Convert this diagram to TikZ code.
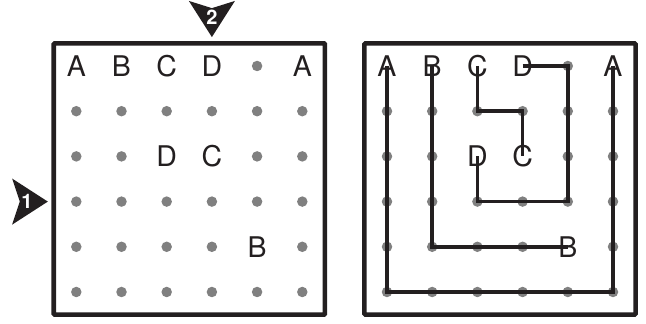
\documentclass[tikz,border=0pt]{standalone}
\usepackage{fontspec}
\setmainfont{TeX Gyre Heros}
\definecolor{ink}{RGB}{35,31,32}
\definecolor{peggray}{RGB}{128,128,128}

\begin{document}
\begin{tikzpicture}[
    letter/.style={inner sep=0pt, text=ink, font=\fontsize{28.5}{28.5}\selectfont},
    peg/.style={circle, fill=peggray, inner sep=0pt, minimum size=10.5pt},
    frame/.style={draw=ink, line width=4.6pt, rounded corners=1pt},
    route/.style={draw=ink, line width=3.6pt},
    flag/.style={fill=ink},
    flagno/.style={inner sep=0pt, text=white, font=\bfseries\fontsize{20}{20}\selectfont}]
    \useasboundingbox (0,0) rectangle (646pt,324pt);
    % left board
    \begin{scope}[shift={(31.1pt,303.2pt)}, x=45.2pt, y=-45.2pt]
    	\draw[frame] (0.5,0.5) rectangle (6.5,6.5);
    	\foreach \j in {2,4,6} \foreach \i in {1,...,6}
    		\node[peg] (n\i\j) at (\i,\j) {};
    	\foreach \i/\j in {5/1,1/3,2/3,5/3,6/3,1/5,2/5,3/5,4/5,6/5}
    		\node[peg] (n\i\j) at (\i,\j) {};
    	\foreach \n/\t/\i/\j in {a1/A/1/1,b1/B/2/1,c1/C/3/1,d1/D/4/1,a2/A/6/1,d2/D/3/3,c2/C/4/3,b2/B/5/5}
    		\node[letter] (l\n) at (\i,\j) {\t};
    	% start marks
    	\fill[flag] (4,0.36) -- (3.49,-0.44) -- (4,-0.28) -- (4.51,-0.44) -- cycle;
    	\node[flagno] (m2) at (4,-0.07) {2};
    	\fill[flag] (0.37,4) -- (-0.42,3.49) -- (-0.25,4) -- (-0.42,4.51) -- cycle;
    	\node[flagno] (m1) at (-0.09,4) {1};
    \end{scope}
    % right board
    \begin{scope}[shift={(341.8pt,303.2pt)}, x=45.2pt, y=-45.2pt]
    	\draw[frame] (0.5,0.5) rectangle (6.5,6.5);
    	\foreach \j in {2,4,6} \foreach \i in {1,...,6}
    		\node[peg] (p\i\j) at (\i,\j) {};
    	\foreach \i/\j in {5/1,1/3,2/3,5/3,6/3,1/5,2/5,3/5,4/5,6/5}
    		\node[peg] (p\i\j) at (\i,\j) {};
    	\foreach \n/\t/\i/\j in {a1/A/1/1,b1/B/2/1,c1/C/3/1,d1/D/4/1,a2/A/6/1,d2/D/3/3,c2/C/4/3,b2/B/5/5}
    		\node[letter] (r\n) at (\i,\j) {\t};
    	\draw[route] (ra1.center) -- (p16.center) -- (p66.center) -- (ra2.center);
    	\draw[route] (rb1.center) -- (p25.center) -- (rb2.center);
    	\draw[route] (rc1.center) -- (p32.center) -- (p42.center) -- (rc2.center);
    	\draw[route] (rd1.center) -- (p51.center) -- (p54.center) -- (p34.center) -- (rd2.center);
    \end{scope}
\end{tikzpicture}
\end{document}
